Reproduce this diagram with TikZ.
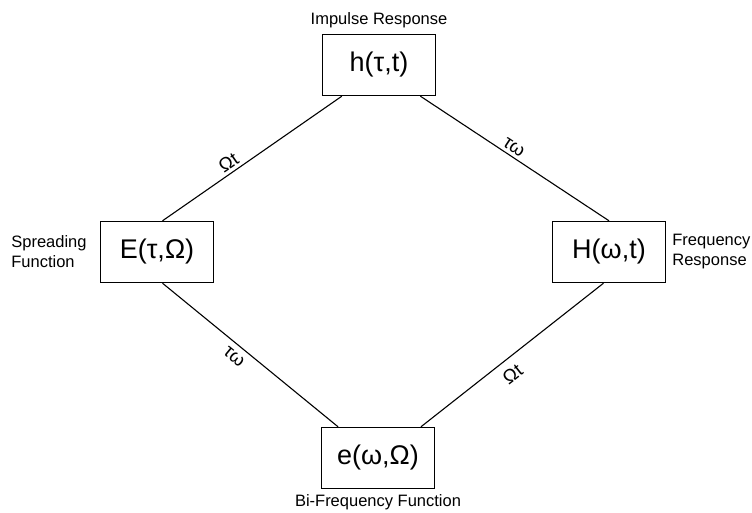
\documentclass[tikz,border=0pt]{standalone}
\usepackage{fontspec}
\setmainfont{Liberation Sans}
\usetikzlibrary{positioning}

\begin{document}
\begin{tikzpicture}[x=1pt, y=-1pt,
  box/.style={draw, line width=1.4pt, minimum width=113pt, minimum height=61pt,
    font=\fontsize{27}{31}\selectfont, inner sep=2pt},
  title/.style={font=\fontsize{16.5}{20}\selectfont, inner sep=1pt, align=left},
  rel/.style={font=\fontsize{19}{21}\selectfont, sloped, inner sep=3pt},
  link/.style={line width=1.1pt}]
  \useasboundingbox (0,0) rectangle (752,513);
  \node[box] (h) at (379,65) {h(τ,t)};
  \node[box] (E) at (157,252) {E(τ,Ω)};
  \node[box] (H) at (609,252) {H(ω,t)};
  \node[box] (e) at (378,458) {e(ω,Ω)};
  \node[title, above=5pt of h] (hname) {Impulse Response};
  \node[title, left=12pt of E] (Ename) {Spreading\\Function};
  \node[title, right=5pt of H] (Hname) {Frequency\\Response};
  \node[title, below=4pt of e] (ename) {Bi-Frequency Function};
  \draw[link] (h.220) -- node[rel, above, pos=0.6] {Ωt} (E.80);
  \draw[link] (h.-37) -- node[rel, above, pos=0.47] {τω} (H.north);
  \draw[link] (E.-80) -- node[rel, below, pos=0.45, inner sep=6pt] {τω} (e.142);
  \draw[link] (e.36) -- node[rel, below, pos=0.45, inner sep=8pt] {Ωt} (H.-100);
\end{tikzpicture}
\end{document}
